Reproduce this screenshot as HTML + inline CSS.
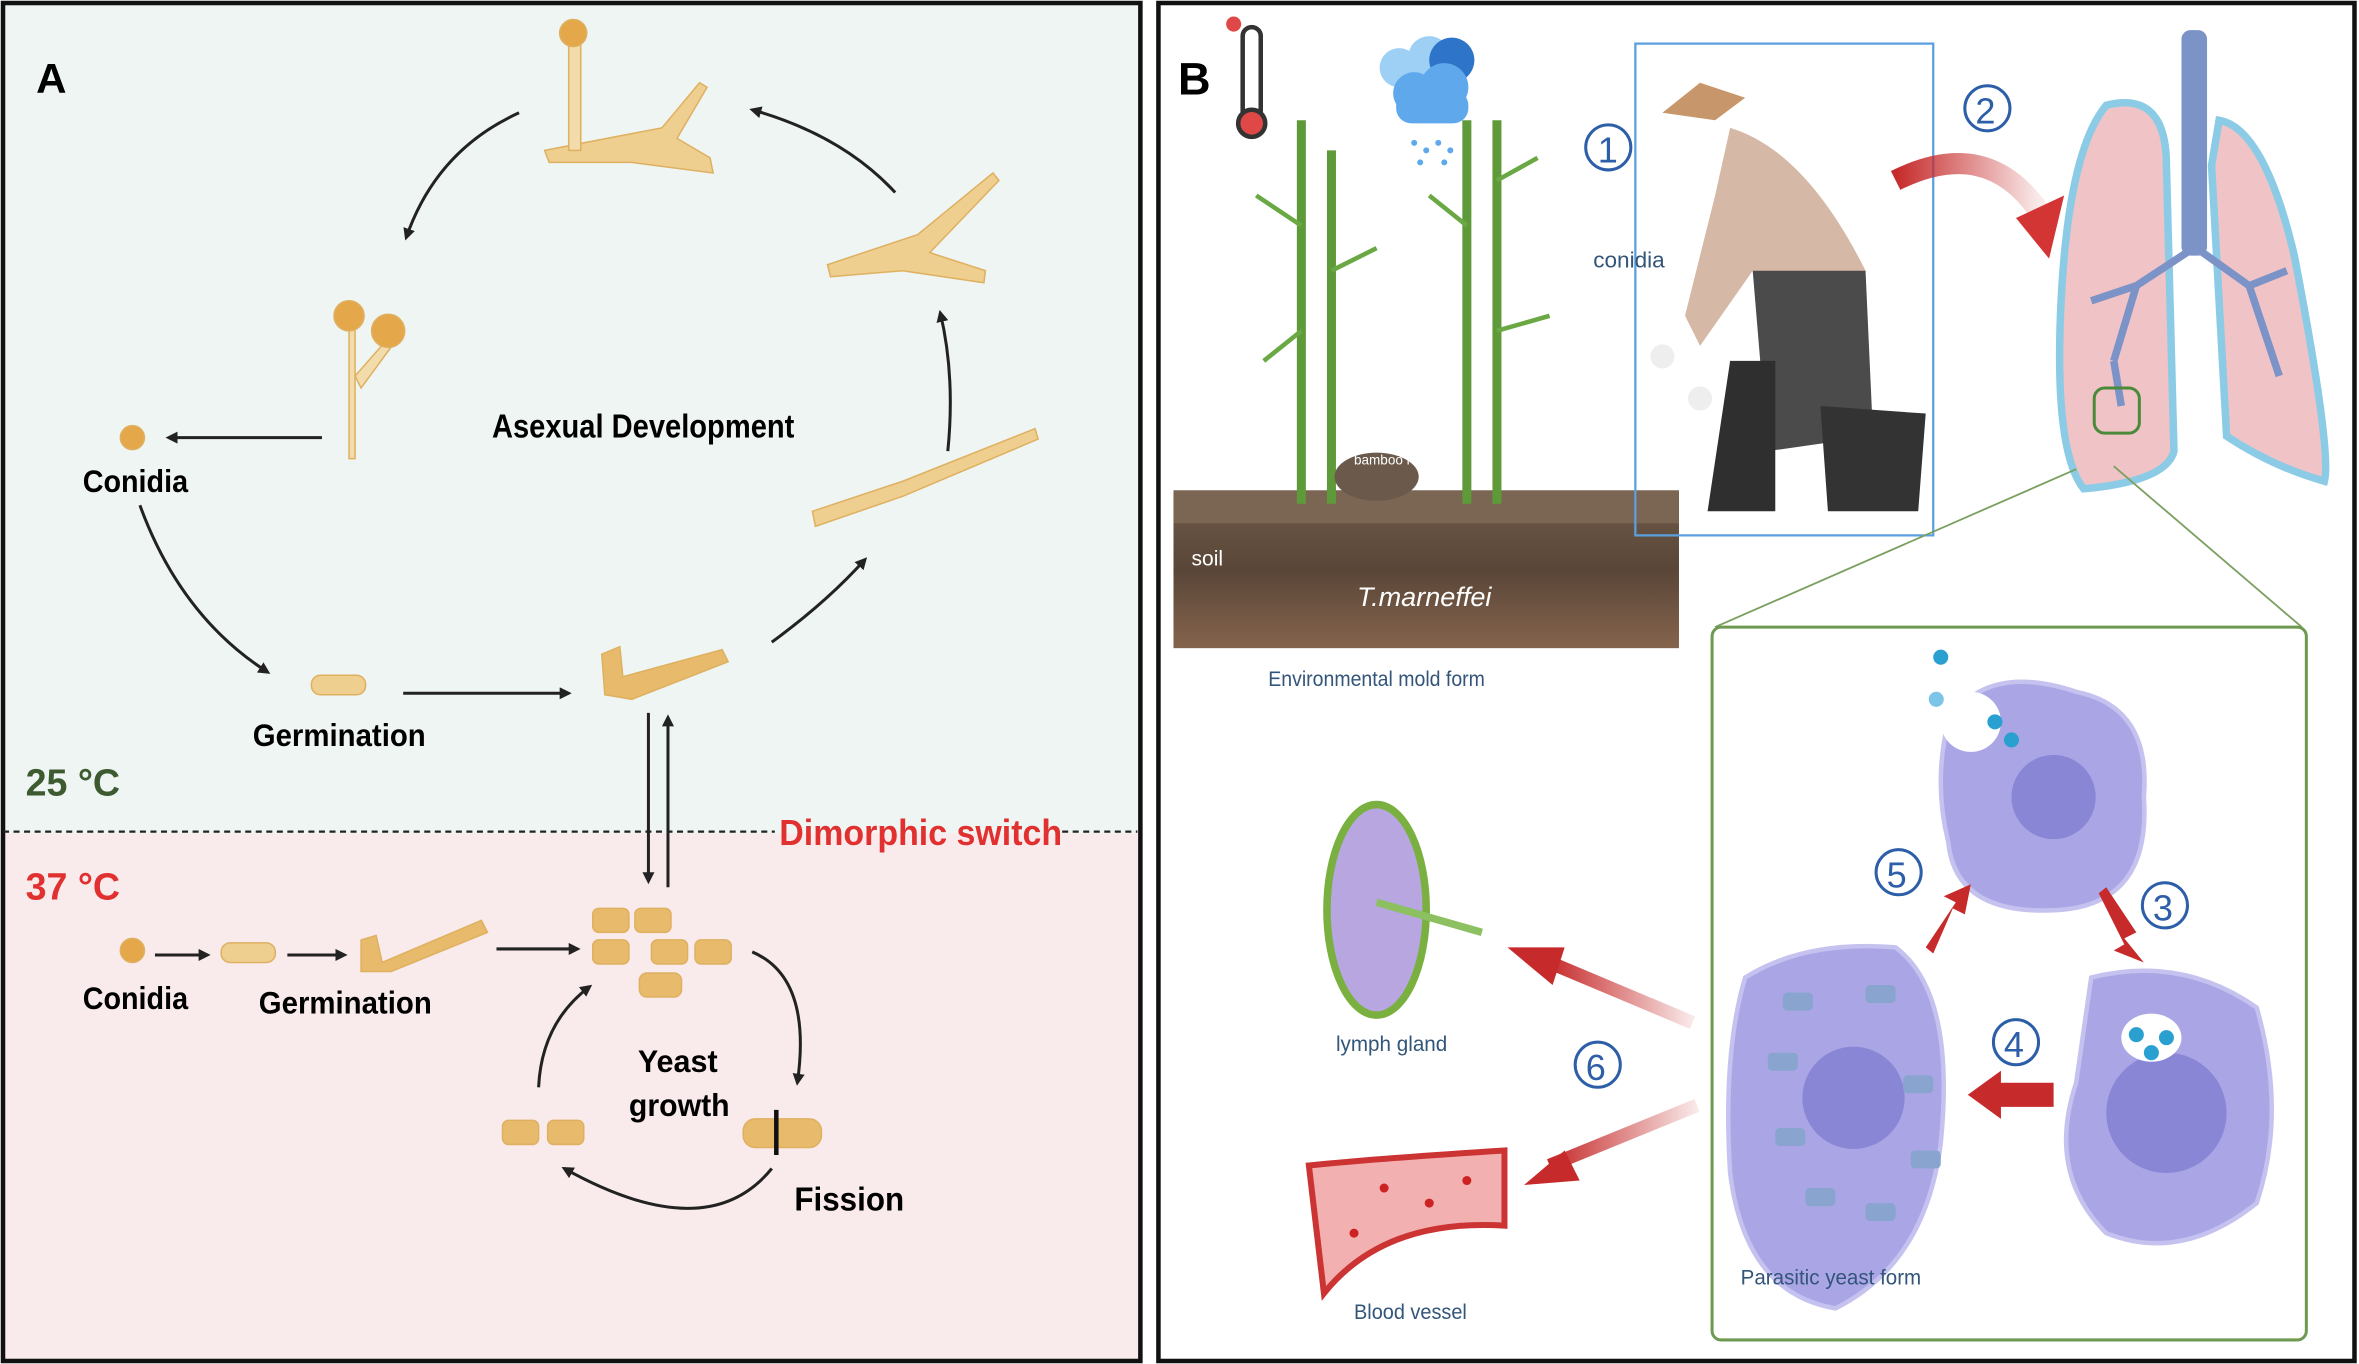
<!DOCTYPE html>
<html><head><meta charset="utf-8"><style>
html,body{margin:0;padding:0;background:#fff}
svg{display:block}
text{font-family:"Liberation Sans",sans-serif}
</style></head><body>
<svg width="2359" height="1364" viewBox="0 0 1568 907" preserveAspectRatio="none" xmlns="http://www.w3.org/2000/svg">
<defs>
<marker id="ah" markerWidth="8" markerHeight="8" refX="6" refY="4" orient="auto" markerUnits="userSpaceOnUse"><path d="M0,0 L8,4 L0,8 Z" fill="#222"/></marker>
<linearGradient id="rgL" x1="1" x2="0"><stop offset="0" stop-color="#c62a2a" stop-opacity="0.1"/><stop offset="1" stop-color="#c62a2a"/></linearGradient>
<linearGradient id="soil" x1="0" y1="0" x2="0" y2="1"><stop offset="0" stop-color="#6e5a48"/><stop offset="0.5" stop-color="#5a4638"/><stop offset="1" stop-color="#85644c"/></linearGradient>
</defs>
<!-- Panel A -->
<rect x="2" y="2" width="756" height="552" fill="#eef5f2"/>
<rect x="2" y="554" width="756" height="351" fill="#f9ebeb"/>
<rect x="2" y="2" width="756" height="903" fill="none" stroke="#111" stroke-width="3"/>
<line x1="2" y1="553" x2="515" y2="553" stroke="#222" stroke-width="1.5" stroke-dasharray="4,3"/>
<line x1="706" y1="553" x2="756" y2="553" stroke="#222" stroke-width="1.5" stroke-dasharray="4,3"/>
<text x="24" y="62" font-size="28" font-weight="bold">A</text>
<text x="518" y="562" font-size="24" font-weight="bold" fill="#e03030" textLength="188" lengthAdjust="spacingAndGlyphs">Dimorphic switch</text>
<text x="17" y="529" font-size="25" font-weight="bold" fill="#3d5a30" font-family="Liberation Serif">25 °C</text>
<text x="17" y="598" font-size="25" font-weight="bold" fill="#e03030" font-family="Liberation Serif">37 °C</text>
<text x="327" y="291" font-size="22" font-weight="bold" textLength="201" lengthAdjust="spacingAndGlyphs">Asexual Development</text>
<text x="55" y="327" font-size="21" font-weight="bold" textLength="70" lengthAdjust="spacingAndGlyphs">Conidia</text>
<text x="168" y="496" font-size="21" font-weight="bold" textLength="115" lengthAdjust="spacingAndGlyphs">Germination</text>
<text x="55" y="671" font-size="21" font-weight="bold" textLength="70" lengthAdjust="spacingAndGlyphs">Conidia</text>
<text x="172" y="674" font-size="21" font-weight="bold" textLength="115" lengthAdjust="spacingAndGlyphs">Germination</text>
<text x="424" y="713" font-size="21" font-weight="bold" textLength="53" lengthAdjust="spacingAndGlyphs">Yeast</text>
<text x="418" y="742" font-size="21" font-weight="bold" textLength="67" lengthAdjust="spacingAndGlyphs">growth</text>
<text x="528" y="805" font-size="22" font-weight="bold" textLength="73" lengthAdjust="spacingAndGlyphs">Fission</text>
<g fill="#efcf90" stroke="#deb060" stroke-width="1">
<circle cx="88" cy="291" r="8" fill="#e4a84a"/><circle cx="88" cy="632" r="8" fill="#e4a84a"/>
<rect x="207" y="449" width="36" height="13" rx="6"/>
<rect x="147" y="627" width="36" height="13" rx="6"/>
<path d="M400,435 L412,430 L414,450 L480,432 L484,440 L420,465 L402,462 Z" fill="#e8bb6c"/>
<path d="M240,625 L250,622 L254,640 L320,612 L324,620 L260,646 L240,646 Z" fill="#e8bb6c"/>
<path d="M540,340 L600,320 L688,285 L690,292 L600,330 L542,350 Z"/>
<path d="M550,176 L610,156 L660,115 L664,120 L618,168 L655,180 L654,188 L600,180 L552,184 Z"/>
<path d="M362,100 L440,85 L465,55 L470,58 L450,92 L472,105 L474,115 L420,108 L365,108 Z"/>
<rect x="378" y="25" width="8" height="75" fill="#f3dcab"/>
<path d="M232,210 L236,210 L236,305 L232,305 Z" fill="#f3dcab"/>
<path d="M236,250 L258,225 L262,228 L240,258 Z" fill="#f3dcab"/>
<circle cx="232" cy="210" r="10" fill="#e4a84a"/><circle cx="258" cy="220" r="11" fill="#e4a84a"/>
<circle cx="381" cy="22" r="9" fill="#e4a84a"/>
<g fill="#e8bb6c">
<rect x="394" y="604" width="24" height="16" rx="4"/><rect x="422" y="604" width="24" height="16" rx="4"/>
<rect x="394" y="625" width="24" height="16" rx="4"/><rect x="433" y="625" width="24" height="16" rx="4"/><rect x="462" y="625" width="24" height="16" rx="4"/>
<rect x="425" y="647" width="28" height="16" rx="5"/>
<rect x="334" y="745" width="24" height="16" rx="4"/><rect x="364" y="745" width="24" height="16" rx="4"/>
<rect x="494" y="744" width="52" height="19" rx="8"/>
</g>
</g>
<line x1="516" y1="738" x2="516" y2="768" stroke="#111" stroke-width="3"/>
<g stroke="#222" stroke-width="2" fill="none" marker-end="url(#ah)">
<line x1="214" y1="291" x2="112" y2="291"/>
<path d="M345,75 Q290,100 270,158"/>
<path d="M93,336 Q120,410 178,447"/>
<line x1="268" y1="461" x2="378" y2="461"/>
<path d="M513,427 Q550,400 575,372"/>
<path d="M630,300 Q635,250 625,208"/>
<path d="M595,128 Q560,90 500,73"/>
<line x1="431" y1="474" x2="431" y2="586"/>
<line x1="444" y1="590" x2="444" y2="477"/>
<line x1="103" y1="635" x2="138" y2="635"/>
<line x1="191" y1="635" x2="229" y2="635"/>
<line x1="330" y1="631" x2="384" y2="631"/>
<path d="M500,633 Q540,650 530,720"/>
<path d="M513,777 Q470,830 375,777"/>
<path d="M358,723 Q360,680 392,656"/>
</g>
<!-- Panel B -->
<rect x="770" y="2" width="795" height="903" fill="#fff" stroke="#111" stroke-width="3"/>
<text x="783" y="63" font-size="30" font-weight="bold">B</text>
<rect x="826" y="18" width="12" height="62" rx="6" fill="#fff" stroke="#333" stroke-width="3"/>
<circle cx="832" cy="82" r="9" fill="#e04848" stroke="#333" stroke-width="3"/>
<circle cx="820" cy="16" r="5" fill="#e04848"/>
<g fill="#9ed0f5"><circle cx="930" cy="45" r="13"/><circle cx="950" cy="38" r="14"/></g>
<g fill="#2e74c8"><circle cx="965" cy="40" r="15"/></g>
<g fill="#5fa8ec"><circle cx="940" cy="62" r="14"/><circle cx="960" cy="58" r="16"/><rect x="928" y="60" width="48" height="22" rx="10"/></g>
<g fill="#5fa8ec"><circle cx="940" cy="95" r="2"/><circle cx="948" cy="100" r="2"/><circle cx="956" cy="95" r="2"/><circle cx="964" cy="100" r="2"/><circle cx="944" cy="108" r="2"/><circle cx="960" cy="108" r="2"/></g>
<rect x="780" y="328" width="336" height="103" fill="url(#soil)"/>
<rect x="780" y="326" width="336" height="22" fill="#7a6652"/>
<g stroke="#5f9a3a" stroke-width="6"><line x1="865" y1="80" x2="865" y2="335"/><line x1="885" y1="100" x2="885" y2="335"/><line x1="975" y1="80" x2="975" y2="335"/><line x1="995" y1="80" x2="995" y2="335"/></g>
<g stroke="#6aa843" stroke-width="3"><line x1="865" y1="150" x2="835" y2="130"/><line x1="885" y1="180" x2="915" y2="165"/><line x1="865" y1="220" x2="840" y2="240"/><line x1="975" y1="150" x2="950" y2="130"/><line x1="995" y1="120" x2="1022" y2="105"/><line x1="995" y1="220" x2="1030" y2="210"/></g>
<ellipse cx="915" cy="317" rx="28" ry="16" fill="#6b5a4c"/>
<text x="900" y="309" font-size="9" fill="#fff">bamboo rat</text>
<text x="792" y="376" font-size="14" fill="#fff">soil</text>
<text x="902" y="403" font-size="18" font-style="italic" fill="#fff">T.marneffei</text>
<text x="843" y="456" font-size="14" fill="#33557a" textLength="144" lengthAdjust="spacingAndGlyphs">Environmental mold form</text>
<rect x="1087" y="29" width="198" height="327" fill="none" stroke="#5aa0e0" stroke-width="1.5"/>
<path d="M1105,75 L1130,55 L1160,65 L1140,80 Z" fill="#c7966a"/>
<path d="M1150,85 Q1200,100 1240,180 L1230,195 L1165,180 L1130,230 L1120,210 L1140,130 Z" fill="#d6b8a6"/>
<path d="M1165,180 L1240,180 L1245,290 L1175,300 Z" fill="#4b4b4b"/>
<path d="M1210,270 L1280,275 L1275,340 L1215,340 Z" fill="#333"/>
<path d="M1150,240 L1180,240 L1180,340 L1135,340 Z" fill="#2f2f2f"/>
<circle cx="1130" cy="265" r="8" fill="#eee"/><circle cx="1105" cy="237" r="8" fill="#eee"/>
<circle cx="1069" cy="98" r="15" fill="none" stroke="#2d5ea8" stroke-width="2"/><text x="1062" y="108" font-size="24" fill="#2d5ea8">1</text>
<text x="1059" y="178" font-size="15" fill="#33557a">conidia</text>
<circle cx="1321" cy="72" r="15" fill="none" stroke="#2d5ea8" stroke-width="2"/><text x="1313" y="82" font-size="24" fill="#2d5ea8">2</text>
<path d="M1260,120 Q1320,90 1355,140" stroke="url(#rgL)" stroke-width="14" fill="none"/>
<path d="M1340,145 L1372,130 L1362,172 Z" fill="#d33535"/>
<path d="M1400,70 Q1440,60 1440,110 L1445,300 Q1440,320 1385,325 Q1365,300 1370,200 Q1375,100 1400,70 Z" fill="#f0c4c6" stroke="#8ccbe6" stroke-width="5"/>
<path d="M1475,80 Q1505,85 1525,170 Q1550,300 1545,320 Q1510,310 1480,290 L1470,110 Z" fill="#f0c4c6" stroke="#8ccbe6" stroke-width="5"/>
<rect x="1450" y="20" width="17" height="150" rx="6" fill="#7c93c8"/>
<path d="M1458,165 L1420,190 L1405,240 M1460,165 L1495,190 L1515,250 M1420,190 L1390,200 M1405,240 L1410,270 M1495,190 L1520,180" stroke="#7c93c8" stroke-width="5" fill="none"/>
<rect x="1392" y="258" width="30" height="30" rx="7" fill="none" stroke="#4a8a3a" stroke-width="2"/>
<line x1="1380" y1="312" x2="1140" y2="417" stroke="#7aa060" stroke-width="1.2"/>
<line x1="1405" y1="310" x2="1530" y2="417" stroke="#7aa060" stroke-width="1.2"/>
<rect x="1138" y="417" width="395" height="474" rx="6" fill="#fff" stroke="#6d9a50" stroke-width="2"/>
<g fill="#aaa6e6" stroke="#c5c2f0" stroke-width="3">
<path d="M1295,480 Q1320,440 1380,460 Q1430,470 1425,530 Q1430,600 1370,605 Q1300,610 1295,560 Q1285,520 1295,480 Z"/>
<path d="M1390,650 Q1450,635 1500,670 Q1520,740 1500,800 Q1450,840 1400,820 Q1360,780 1380,720 Z"/>
<path d="M1160,650 Q1200,625 1260,630 Q1300,660 1290,760 Q1280,840 1220,870 Q1160,860 1150,780 Q1145,700 1160,650 Z"/>
</g>
<circle cx="1310" cy="480" r="20" fill="#fff"/>
<g fill="#8a86d6"><circle cx="1365" cy="530" r="28"/><circle cx="1440" cy="740" r="40"/><circle cx="1232" cy="730" r="34"/></g>
<ellipse cx="1430" cy="690" rx="20" ry="16" fill="#fff"/>
<g fill="#2aa0d0"><circle cx="1290" cy="437" r="5"/><circle cx="1287" cy="465" r="5" fill="#7cc4e8"/><circle cx="1326" cy="480" r="5"/><circle cx="1337" cy="492" r="5"/><circle cx="1420" cy="688" r="5"/><circle cx="1440" cy="690" r="5"/><circle cx="1430" cy="700" r="5"/></g>
<g fill="#8aa4d0"><rect x="1185" y="660" width="20" height="12" rx="3"/><rect x="1240" y="655" width="20" height="12" rx="3"/><rect x="1175" y="700" width="20" height="12" rx="3"/><rect x="1265" y="715" width="20" height="12" rx="3"/><rect x="1180" y="750" width="20" height="12" rx="3"/><rect x="1270" y="765" width="20" height="12" rx="3"/><rect x="1200" y="790" width="20" height="12" rx="3"/><rect x="1240" y="800" width="20" height="12" rx="3"/></g>
<text x="1157" y="854" font-size="14" fill="#33557a" textLength="120" lengthAdjust="spacingAndGlyphs">Parasitic yeast form</text>
<g fill="none" stroke="#2d5ea8" stroke-width="2"><circle cx="1262" cy="580" r="15"/><circle cx="1439" cy="602" r="15"/><circle cx="1340" cy="693" r="15"/><circle cx="1062" cy="708" r="15"/></g>
<g font-size="24" fill="#2d5ea8"><text x="1254" y="590">5</text><text x="1431" y="612">3</text><text x="1332" y="703">4</text><text x="1054" y="718">6</text></g>
<g fill="#c62a2a">
<path d="M1280,630 L1300,600 L1292,596 L1310,588 L1306,608 L1298,604 L1285,634 Z"/>
<path d="M1400,590 L1420,620 L1412,624 L1425,640 L1405,632 L1412,628 L1395,594 Z"/>
<path d="M1365,720 L1330,720 L1330,712 L1308,728 L1330,744 L1330,736 L1365,736 Z"/>
</g>
<path d="M1125,680 L1030,640" stroke="url(#rgL)" stroke-width="9"/>
<path d="M1040,630 L1002,630 L1032,655 Z" fill="#c62a2a"/>
<path d="M1128,735 L1030,775" stroke="url(#rgL)" stroke-width="9"/>
<path d="M1040,765 L1013,788 L1050,785 Z" fill="#c62a2a"/>
<ellipse cx="915" cy="605" rx="33" ry="70" fill="#b7a6e0" stroke="#7ab040" stroke-width="5"/>
<path d="M915,600 L985,620" stroke="#8cc060" stroke-width="5"/>
<text x="888" y="699" font-size="14" fill="#33557a" textLength="74" lengthAdjust="spacingAndGlyphs">lymph gland</text>
<path d="M870,775 Q920,770 1000,765 L1000,815 Q920,810 880,860 Z" fill="#f2b0b0" stroke="#c33" stroke-width="4"/>
<g fill="#c22"><circle cx="920" cy="790" r="3"/><circle cx="950" cy="800" r="3"/><circle cx="975" cy="785" r="3"/><circle cx="900" cy="820" r="3"/></g>
<text x="900" y="877" font-size="14" fill="#33557a" textLength="75" lengthAdjust="spacingAndGlyphs">Blood vessel</text>
</svg>
</body></html>
